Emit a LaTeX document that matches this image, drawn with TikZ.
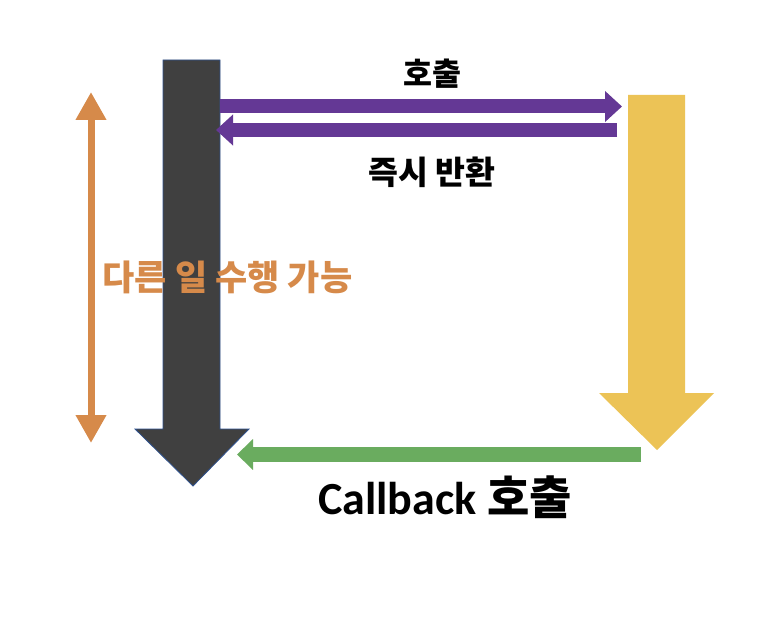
\documentclass[tikz,border=0pt]{standalone}
\usepackage{fontspec}
\newfontfamily\kr{Noto Sans CJK KR}
\newfontfamily\lat{Carlito}
\usetikzlibrary{arrows.meta}
\definecolor{darkfill}{HTML}{404040}
\definecolor{darkline}{HTML}{2F528F}
\definecolor{goldfill}{HTML}{ECC356}
\definecolor{purp}{HTML}{643895}
\definecolor{grn}{HTML}{6AAC5F}
\definecolor{orng}{HTML}{D68A4A}
\tikzset{
  blockarrow/.style={line join=miter},
  callline/.style={purp, line width=14pt, -{Triangle[length=17pt,width=30pt]}},
  backline/.style={grn, line width=15pt, -{Triangle[length=16pt,width=30pt]}},
  spanline/.style={orng, line width=7pt, {Triangle[length=28pt,width=29pt]}-{Triangle[length=28pt,width=29pt]}},
  lbl/.style={font=\kr\bfseries, inner sep=0pt},
}
\begin{document}
\begin{tikzpicture}[x=1pt,y=-1pt]
\useasboundingbox (0,0) rectangle (774,628);
\fill[white] (0,0) rectangle (774,628);
% dark block arrow (caller)
\draw[blockarrow, fill=darkfill, draw=darkline, line width=0.8pt]
  (163,60) -- (220,60) -- (220,429) -- (249,429) -- (193,486) -- (135,429) -- (163,429) -- cycle;
% gold block arrow (callee)
\fill[blockarrow, goldfill]
  (628,95) -- (685,95) -- (685,393) -- (714,393) -- (657,450) -- (599,393) -- (628,393) -- cycle;
% coordinates
\coordinate (callA) at (220,106.5);
\coordinate (callB) at (622,106.5);
\coordinate (retA) at (617,130);
\coordinate (retB) at (216,130);
\coordinate (cbA) at (641,454.5);
\coordinate (cbB) at (237,454.5);
\coordinate (spTop) at (91,92);
\coordinate (spBot) at (91,443);
% connectors
\draw[callline] (callA) -- (callB);
\draw[callline] (retA) -- (retB);
\draw[backline] (cbA) -- (cbB);
\draw[spanline] (spTop) -- (spBot);
% labels
\node[lbl, font=\kr\bfseries\fontsize{31.5}{36}\selectfont] (call) at (432,74) {호출};
\node[lbl, font=\kr\bfseries\fontsize{32.5}{38}\selectfont] (ret) at (432,172.5) {즉시 반환};
\node[lbl, orng, font=\kr\bfseries\fontsize{35}{40}\selectfont] (other) at (227.5,277) {다른 일 수행 가능};
\node[lbl, font=\kr\bfseries\fontsize{46}{52}\selectfont] (cb) at (445,497) {{\lat\bfseries Callback} 호출};
\end{tikzpicture}
\end{document}
